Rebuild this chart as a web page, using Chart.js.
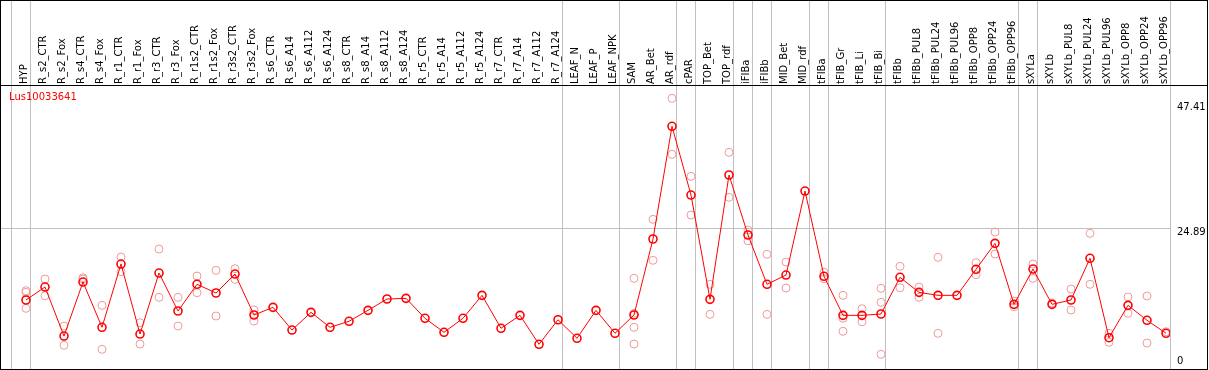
<!DOCTYPE html>
<html>
<head>
<meta charset="utf-8">
<script src="https://cdn.jsdelivr.net/npm/chart.js@4.4.1/dist/chart.umd.min.js"></script>
<style>
  html, body { margin: 0; padding: 0; background: #fff; }
  #wrap { position: relative; width: 1209px; height: 370px; }
  #gene { position: absolute; left: 9px; top: 91px; font: 10px 'DejaVu Sans', sans-serif; color: #ff0000; line-height: 12px; }
</style>
</head>
<body>
<div id="wrap">
  <canvas id="expr" width="1209" height="370"></canvas>
  <div id="gene">Lus10033641</div>
</div>
<script>
const categories = ['HYP', 'R_s2_CTR', 'R_s2_Fox', 'R_s4_CTR', 'R_s4_Fox', 'R_r1_CTR', 'R_r1_Fox', 'R_r3_CTR', 'R_r3_Fox',
  'R_r1s2_CTR', 'R_r1s2_Fox', 'R_r3s2_CTR', 'R_r3s2_Fox', 'R_s6_CTR', 'R_s6_A14', 'R_s6_A112', 'R_s6_A124',
  'R_s8_CTR', 'R_s8_A14', 'R_s8_A112', 'R_s8_A124', 'R_r5_CTR', 'R_r5_A14', 'R_r5_A112', 'R_r5_A124',
  'R_r7_CTR', 'R_r7_A14', 'R_r7_A112', 'R_r7_A124', 'LEAF_N', 'LEAF_P', 'LEAF_NPK', 'SAM', 'AR_Bet', 'AR_rdf',
  'cPAR', 'TOP_Bet', 'TOP_rdf', 'iFIBa', 'iFIBb', 'MID_Bet', 'MID_rdf', 'tFIBa', 'tFIB_Gr', 'tFIB_Li', 'tFIB_Bi',
  'tFIBb', 'tFIBb_PUL8', 'tFIBb_PUL24', 'tFIBb_PUL96', 'tFIBb_OPP8', 'tFIBb_OPP24', 'tFIBb_OPP96',
  'sXYLa', 'sXYLb', 'sXYLb_PUL8', 'sXYLb_PUL24', 'sXYLb_PUL96', 'sXYLb_OPP8', 'sXYLb_OPP24', 'sXYLb_OPP96'];

// mean expression per sample
const means = [12.0, 14.33, 5.52, 15.23, 7.09, 18.47, 5.88, 16.85, 10.02, 14.82,
  13.26, 16.67, 9.3, 10.68, 6.6, 9.78, 7.09, 8.17, 10.14, 12.18,
  12.3, 8.71, 6.19, 8.71, 12.84, 6.91, 9.24, 4.03, 8.45, 5.11,
  10.14, 6.01, 9.3, 22.97, 43.24, 30.88, 12.12, 34.48, 23.69, 14.82,
  16.49, 31.6, 16.26, 9.24, 9.24, 9.48, 16.08, 13.38, 12.84, 12.84,
  17.52, 22.19, 11.22, 17.57, 11.22, 12.0, 19.5, 5.22, 11.04, 8.35, 6.01];

// individual replicates per sample
const replicates = [
  [13.67, 13.38, 10.5], [15.77, 12.77], [7.32, 3.85], [16.0, 15.77], [11.04, 3.13],
  [19.73, 17.09], [7.91, 4.08], [21.17, 12.48], [12.48, 7.32], [16.31, 13.31],
  [17.34, 9.12], [17.63, 15.72], [10.2, 8.22], [], [], [], [], [], [], [],
  [], [], [], [], [], [], [], [], [], [],
  [], [], [15.9, 9.6, 7.09, 4.08], [26.51, 19.14], [48.27, 38.2], [34.24, 27.28], [14.82, 9.42], [38.56, 30.47], [24.59, 22.66], [20.22, 9.42],
  [18.83, 14.15], [], [16.98, 15.83], [12.84, 8.71, 6.37], [10.43, 8.09], [14.1, 11.58, 2.23], [18.06, 14.21], [14.33, 12.48], [19.68, 6.01], [],
  [18.71, 16.55], [24.23, 20.27], [11.82, 10.79], [18.47, 15.9], [11.46], [13.97, 10.2], [23.99, 14.82], [6.01, 4.39], [12.54, 9.6], [12.72, 4.26], [6.3]
];

// group separators (sit just after these samples)
const separators = [-0.75, 0.25, 28.25, 31.25, 34.25, 35.25, 37.25, 38.25, 39.25, 41.25, 42.25, 45.25, 52.25, 53.25, 60.25];
const yTicks = [0, 24.89, 47.41];
const yGridAt = 24.89;

const meanPoints = means.map((v, i) => ({x: i, y: v}));
const repPoints = [];
replicates.forEach((reps, i) => reps.forEach(v => repPoints.push({x: i, y: v})));

const frame = {
  id: 'frame',
  afterDraw(chart) {
    const ctx = chart.ctx;
    ctx.save();
    ctx.strokeStyle = '#000';
    ctx.lineWidth = 1;
    ctx.beginPath();
    ctx.moveTo(0, 0.5); ctx.lineTo(1208, 0.5);
    ctx.moveTo(0.5, 0); ctx.lineTo(0.5, 370);
    ctx.moveTo(1207.5, 0); ctx.lineTo(1207.5, 370);
    ctx.moveTo(0, 369.5); ctx.lineTo(1208, 369.5);
    ctx.moveTo(0, 85.5); ctx.lineTo(1208, 85.5);
    ctx.stroke();
    ctx.restore();
  }
};

const font = {family: "'DejaVu Sans', sans-serif", size: 10};

function noPad(s) {
  s.paddingLeft = 0;
  s.paddingRight = 0;
  s.paddingTop = 0;
  s.paddingBottom = 0;
}

new Chart(document.getElementById('expr'), {
  type: 'line',
  data: {
    datasets: [
      {
        data: meanPoints,
        borderColor: '#ff0000',
        borderWidth: 1,
        pointRadius: 4,
        pointBorderWidth: 1.6,
        pointBorderColor: '#ff0000',
        pointBackgroundColor: 'rgba(0,0,0,0)',
        order: 0
      },
      {
        data: repPoints,
        showLine: false,
        pointRadius: 4,
        pointBorderWidth: 1,
        pointBorderColor: '#f09a9a',
        pointBackgroundColor: 'rgba(0,0,0,0)',
        order: 1
      }
    ]
  },
  options: {
    responsive: false,
    animation: false,
    layout: {autoPadding: false, padding: {left: 1, right: 1, top: 0, bottom: 1}},
    plugins: {
      legend: {display: false},
      tooltip: {enabled: false}
    },
    scales: {
      x: {
        type: 'linear',
        position: 'top',
        weight: 1,
        min: -1.316,
        max: 60.21,
        afterBuildTicks: s => { s.ticks = categories.map((c, i) => ({value: i})); },
        afterFit: s => { s.height = 86; noPad(s); },
        grid: {display: false, drawTicks: false},
        border: {display: false},
        ticks: {
          autoSkip: false,
          minRotation: 90,
          maxRotation: 90,
          padding: 2,
          labelOffset: 10,
          color: '#000',
          font: font,
          callback: (v, i) => categories[i]
        }
      },
      xs: {
        type: 'linear',
        position: 'top',
        weight: 0,
        min: -1.316,
        max: 60.21,
        afterBuildTicks: s => { s.ticks = separators.map(v => ({value: v})); },
        afterFit: s => { s.height = 0; noPad(s); },
        border: {display: false},
        grid: {color: '#c0c0c0', tickColor: '#c0c0c0', tickLength: 86, drawTicks: true},
        ticks: {display: false}
      },
      y: {
        type: 'linear',
        position: 'right',
        min: -0.41,
        max: 50.49,
        afterBuildTicks: s => {
          const floor = s.min + (s.max - s.min) * 0.04;
          s.ticks = yTicks.map(v => ({value: Math.max(v, floor)}));
        },
        afterFit: s => { s.width = 38; noPad(s); },
        border: {display: true, color: '#c0c0c0'},
        grid: {
          drawTicks: false,
          color: c => (c.tick && Math.abs(c.tick.value - yGridAt) < 0.001) ? '#c0c0c0' : 'rgba(0,0,0,0)'
        },
        ticks: {
          padding: 7,
          labelOffset: 4,
          color: '#000',
          font: font,
          callback: (v, i) => String(yTicks[i])
        }
      }
    }
  },
  plugins: [frame]
});
</script>
</body>
</html>
